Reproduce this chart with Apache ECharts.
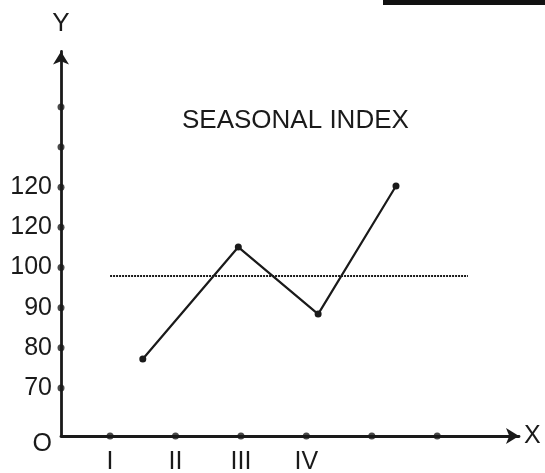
<!DOCTYPE html>
<html>
<head>
<meta charset="utf-8">
<script src="https://cdn.jsdelivr.net/npm/echarts@6/dist/echarts.min.js"></script>
<style>html,body{margin:0;padding:0;background:#fff}#c{width:545px;height:473px}</style>
</head>
<body>
<div id="c"></div>
<script>
// Data
var quarterPositions = [1.5, 2.96, 4.18, 5.37];
var seasonalIndex = [77.2, 105.1, 88.4, 120.3];
var averageLineX = [1.0, 6.47];
var averageValue = 97.9;
var xTickValues = [1, 2, 3, 4, 5, 6];
var xTickLabels = ['I', 'II', 'III', 'IV', '', ''];
var yTickValues = [70, 80, 90, 100, 110, 120, 130, 140];
var yLabelValues = [58.04, 70, 80, 90, 100, 110, 120];
var yLabelTexts = ['O', '70', '80', '90', '100', '120', '120'];
var titleText = 'SEASONAL INDEX';

var xMin = 0.25, xMax = 7.25, yMin = 58.04, yMax = 153.8;
var ink = '#1a1a1a';
var font = '"Liberation Sans", Arial, sans-serif';

var chart = echarts.init(document.getElementById('c'), null, {renderer: 'canvas'});
chart.setOption({
  animation: false,
  backgroundColor: '#fff',
  title: {
    text: titleText, left: 177, top: 103,
    textStyle: {fontFamily: font, fontSize: 26, fontWeight: 'normal', color: ink}
  },
  graphic: [{
    type: 'rect', shape: {x: 383, y: 0, width: 162, height: 5},
    style: {fill: '#111'}
  }],
  grid: {left: 61, right: 26, top: 51.5, bottom: 37, outerBoundsMode: 'none'},
  xAxis: {
    type: 'value', min: xMin, max: xMax,
    name: 'X', nameLocation: 'end', nameGap: 5,
    nameTextStyle: {fontFamily: font, fontSize: 25, color: ink, verticalAlign: 'middle'},
    axisLine: {show: true, onZero: false, symbol: ['none', 'arrow'], symbolSize: [12, 13],
      lineStyle: {color: ink, width: 2.8}},
    axisTick: {show: false},
    splitLine: {show: false},
    axisLabel: {
      customValues: xTickValues, margin: 14,
      fontFamily: font, fontSize: 25, color: ink,
      formatter: function (v) { var i = xTickValues.indexOf(v); return i >= 0 ? xTickLabels[i] : ''; }
    }
  },
  yAxis: {
    type: 'value', min: yMin, max: yMax,
    name: 'Y', nameLocation: 'end', nameGap: 15,
    nameTextStyle: {fontFamily: font, fontSize: 26, color: ink, align: 'center'},
    axisLine: {show: true, onZero: false, symbol: ['none', 'arrow'], symbolSize: [12, 13],
      lineStyle: {color: ink, width: 2.8}},
    axisTick: {show: false},
    splitLine: {show: false},
    axisLabel: {
      customValues: yLabelValues, margin: 9,
      fontFamily: font, fontSize: 25, color: ink,
      formatter: function (v) {
        var i = yLabelValues.indexOf(v);
        if (i === 0) return '{o|' + yLabelTexts[0] + '}';
        return i >= 0 ? yLabelTexts[i] : '';
      },
      rich: {o: {fontFamily: font, fontSize: 25, color: ink, padding: [16, 0, 0, 0]}}
    }
  },
  series: [
    {
      type: 'line', name: 'average',
      data: averageLineX.map(function (x) { return [x, averageValue]; }),
      symbol: 'none',
      lineStyle: {color: ink, width: 2, type: [2, 1]},
      silent: true, z: 2
    },
    {
      type: 'line', name: 'seasonal index',
      data: quarterPositions.map(function (x, i) { return [x, seasonalIndex[i]]; }),
      symbol: 'circle', symbolSize: 7,
      itemStyle: {color: ink},
      lineStyle: {color: ink, width: 2.2},
      z: 3
    },
    {
      type: 'scatter', name: 'xticks',
      data: xTickValues.map(function (x) { return [x, yMin]; }),
      symbol: 'circle', symbolSize: 7, itemStyle: {color: ink}, clip: false, z: 4, silent: true
    },
    {
      type: 'scatter', name: 'yticks',
      data: yTickValues.map(function (y) { return [xMin, y]; }),
      symbol: 'circle', symbolSize: 7, itemStyle: {color: ink}, clip: false, z: 4, silent: true
    }
  ]
});
</script>
</body>
</html>
